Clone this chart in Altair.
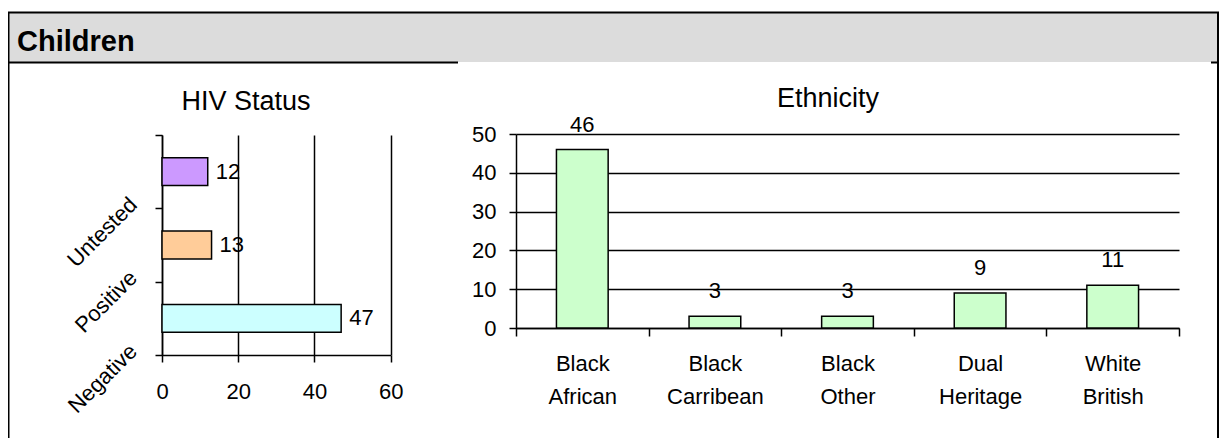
import altair as alt
import pandas as pd

# ---------------- data ----------------
hiv_status = ["Untested", "Positive", "Negative"]
hiv_counts = [12, 13, 47]
hiv_ticks = [0, 20, 40, 60]

eth_groups = ["Black African", "Black Carribean", "Black Other", "Dual Heritage", "White British"]
eth_counts = [46, 3, 3, 9, 11]
eth_ticks = [0, 10, 20, 30, 40, 50]

header_text = "Children"
hiv_title = "HIV Status"
eth_title = "Ethnicity"

# ---------------- styles ----------------
FONT = "Liberation Sans, Arial, sans-serif"
W, H = 1211, 430
LINE = "#000000"
HIV_COLORS = ["#cc99ff", "#ffcc99", "#ccffff"]
ETH_COLOR = "#ccffcc"
HEADER_FILL = "#dcdcdc"

hiv_df = pd.DataFrame({"status": hiv_status, "count": hiv_counts})
eth_df = pd.DataFrame({"group": eth_groups, "count": eth_counts})

axis_common = dict(domainColor=LINE, domainWidth=1.5, tickColor=LINE, tickWidth=1.5,
                   labelColor="#000000", labelFont=FONT, labelFontSize=22, title=None)

# ---------------- HIV panel ----------------
hiv_xscale = alt.Scale(domain=[0, 60], range=[154, 382.7], nice=False, zero=True)
hiv_x = alt.X("count:Q", scale=hiv_xscale,
              axis=alt.Axis(orient="bottom", offset=347 - H, values=hiv_ticks, grid=False,
                            tickSize=7, labelPadding=19, labelFlush=False, **axis_common))
# grid-only axis (vertical gridlines spanning the band range)
hiv_x_grid = alt.X("count:Q", scale=hiv_xscale,
                   axis=alt.Axis(orient="top", offset=0, values=hiv_ticks, grid=True, gridColor=LINE,
                                 gridWidth=1.5, gridOpacity=1, labels=False, ticks=False,
                                 domain=False, title=None))
hiv_y = alt.Y("status:N",
              scale=alt.Scale(domain=hiv_status, range=[127, 347], paddingInner=0, paddingOuter=0),
              axis=alt.Axis(orient="left", offset=-154, tickBand="extent", grid=False, tickSize=7,
                            labelAngle=315, labelAlign="right", labelBaseline="middle",
                            labelOffset=29, labelPadding=22, **axis_common))
hiv_color = alt.Color("status:N", scale=alt.Scale(domain=hiv_status, range=HIV_COLORS), legend=None)

hiv_base = alt.Chart(hiv_df)
hiv_bars = hiv_base.mark_bar(stroke=LINE, strokeWidth=1.5, height=alt.RelativeBandSize(0.38)).encode(
    x=hiv_x, y=hiv_y, color=hiv_color)
hiv_text = hiv_base.mark_text(align="left", baseline="middle", dx=8, fontSize=22, font=FONT,
                              color="#000000").encode(x=hiv_x_grid, y=hiv_y, text="count:Q")
hiv = alt.layer(hiv_bars, hiv_text).resolve_axis(x="independent")

# ---------------- Ethnicity panel ----------------
eth_x = alt.X("group:N",
              scale=alt.Scale(domain=eth_groups, range=[508, 1171], paddingInner=0, paddingOuter=0),
              axis=alt.Axis(orient="bottom", offset=320 - H, tickBand="extent", grid=False, tickSize=8,
                            labelAngle=0, labelPadding=17, labelExpr="split(datum.label, ' ')",
                            labelLineHeight=33, labelBaseline="top", **axis_common))
eth_y = alt.Y("count:Q",
              scale=alt.Scale(domain=[0, 50], range=[320, 126], nice=False, zero=True),
              axis=alt.Axis(orient="left", offset=-508, values=eth_ticks, grid=True,
                            gridColor=LINE, gridWidth=1.5, gridOpacity=1, tickSize=7,
                            labelPadding=13, **axis_common))

eth_base = alt.Chart(eth_df)
eth_bars = eth_base.mark_bar(color=ETH_COLOR, stroke=LINE, strokeWidth=1.5,
                             width=alt.RelativeBandSize(0.39)).encode(x=eth_x, y=eth_y)
eth_text = eth_base.mark_text(align="center", baseline="alphabetic", dy=-18, fontSize=22, font=FONT,
                              color="#000000").encode(x=eth_x, y=eth_y, text="count:Q")
eth = alt.layer(eth_bars, eth_text)

# ---------------- decorations (frame, header, panel titles) ----------------
one = alt.Data(values=[{}])


def rule(x, x2, y, y2, w=2):
    return alt.Chart(one).mark_rule(color=LINE, strokeWidth=w).encode(
        x=alt.value(x), x2=alt.value(x2), y=alt.value(y), y2=alt.value(y2))


header_rect = alt.Chart(one).mark_rect(color=HEADER_FILL).encode(
    x=alt.value(0), x2=alt.value(1210), y=alt.value(4), y2=alt.value(54))
frame = [
    rule(0, 1211, 4.5, 4.5),       # top
    rule(0.5, 0.5, 4, H),          # left
    rule(1210, 1210, 4, H),        # right
    rule(0, 450, 54.5, 54.5),      # header bottom (left part)
    rule(1203, 1210, 54.5, 54.5),  # small tick on right
]
header = alt.Chart(one).mark_text(text=header_text, font=FONT, fontSize=29, fontWeight="bold",
                                  align="left", baseline="alphabetic", color="#000000").encode(
    x=alt.value(9), y=alt.value(43))
t1 = alt.Chart(one).mark_text(text=hiv_title, font=FONT, fontSize=27, align="center",
                              baseline="alphabetic", color="#000000").encode(
    x=alt.value(238), y=alt.value(102))
t2 = alt.Chart(one).mark_text(text=eth_title, font=FONT, fontSize=27, align="center",
                              baseline="alphabetic", color="#000000").encode(
    x=alt.value(820), y=alt.value(99))

chart = alt.layer(header_rect, *frame, header, t1, t2, hiv, eth).resolve_scale(
    x="independent", y="independent", color="independent"
).resolve_axis(
    x="independent", y="independent"
).properties(
    width=W, height=H, autosize=alt.AutoSizeParams(type="none"), padding=0, background="white"
).configure(font=FONT).configure_view(stroke=None)

chart.save("out.html", embed_options={"renderer": "svg", "actions": False})
